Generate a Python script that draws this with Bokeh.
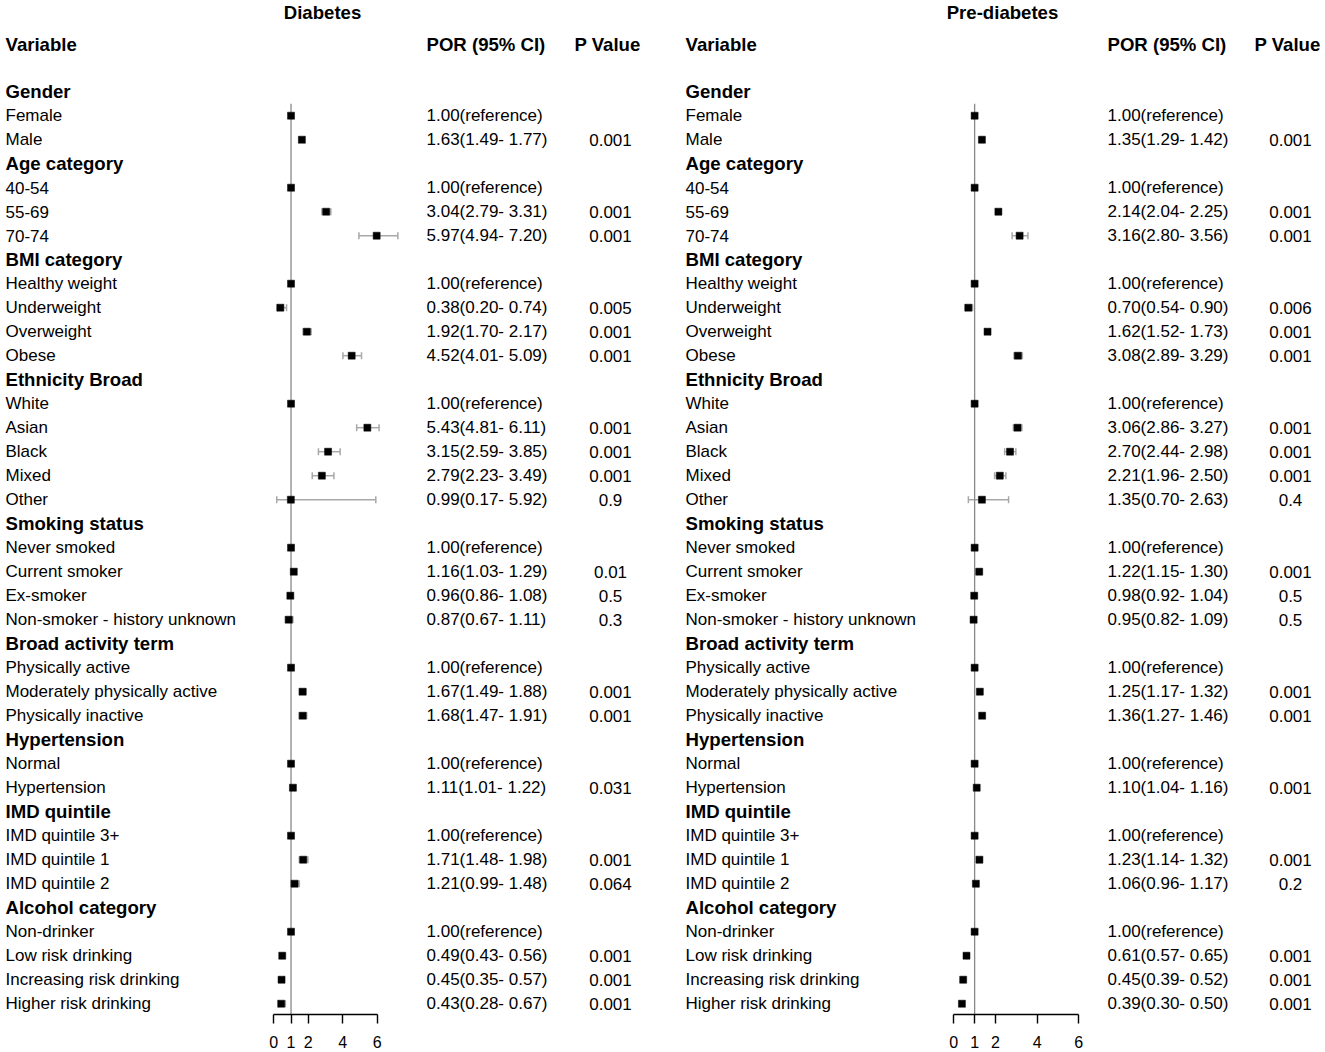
from bokeh.plotting import figure
from bokeh.models import ColumnDataSource, Range1d, LinearAxis, FixedTicker, Whisker, TeeHead
from bokeh.layouts import row
from bokeh.embed import file_html
from bokeh.resources import INLINE
from bokeh.core.properties import value

# ---------------- data ----------------
groups = ["Gender", "Age category", "BMI category", "Ethnicity Broad", "Smoking status",
          "Broad activity term", "Hypertension", "IMD quintile", "Alcohol category"]
levels = [["Female", "Male"],
          ["40-54", "55-69", "70-74"],
          ["Healthy weight", "Underweight", "Overweight", "Obese"],
          ["White", "Asian", "Black", "Mixed", "Other"],
          ["Never smoked", "Current smoker", "Ex-smoker", "Non-smoker - history unknown"],
          ["Physically active", "Moderately physically active", "Physically inactive"],
          ["Normal", "Hypertension"],
          ["IMD quintile 3+", "IMD quintile 1", "IMD quintile 2"],
          ["Non-drinker", "Low risk drinking", "Increasing risk drinking", "Higher risk drinking"]]

dm_or = [1.00, 1.63, 1.00, 3.04, 5.97, 1.00, 0.38, 1.92, 4.52, 1.00, 5.43, 3.15, 2.79, 0.99,
         1.00, 1.16, 0.96, 0.87, 1.00, 1.67, 1.68, 1.00, 1.11, 1.00, 1.71, 1.21, 1.00, 0.49, 0.45, 0.43]
dm_lo = [None, 1.49, None, 2.79, 4.94, None, 0.20, 1.70, 4.01, None, 4.81, 2.59, 2.23, 0.17,
         None, 1.03, 0.86, 0.67, None, 1.49, 1.47, None, 1.01, None, 1.48, 0.99, None, 0.43, 0.35, 0.28]
dm_hi = [None, 1.77, None, 3.31, 7.20, None, 0.74, 2.17, 5.09, None, 6.11, 3.85, 3.49, 5.92,
         None, 1.29, 1.08, 1.11, None, 1.88, 1.91, None, 1.22, None, 1.98, 1.48, None, 0.56, 0.57, 0.67]
dm_p = ["", "0.001", "", "0.001", "0.001", "", "0.005", "0.001", "0.001", "", "0.001", "0.001", "0.001", "0.9",
        "", "0.01", "0.5", "0.3", "", "0.001", "0.001", "", "0.031", "", "0.001", "0.064", "", "0.001", "0.001", "0.001"]

pd_or = [1.00, 1.35, 1.00, 2.14, 3.16, 1.00, 0.70, 1.62, 3.08, 1.00, 3.06, 2.70, 2.21, 1.35,
         1.00, 1.22, 0.98, 0.95, 1.00, 1.25, 1.36, 1.00, 1.10, 1.00, 1.23, 1.06, 1.00, 0.61, 0.45, 0.39]
pd_lo = [None, 1.29, None, 2.04, 2.80, None, 0.54, 1.52, 2.89, None, 2.86, 2.44, 1.96, 0.70,
         None, 1.15, 0.92, 0.82, None, 1.17, 1.27, None, 1.04, None, 1.14, 0.96, None, 0.57, 0.39, 0.30]
pd_hi = [None, 1.42, None, 2.25, 3.56, None, 0.90, 1.73, 3.29, None, 3.27, 2.98, 2.50, 2.63,
         None, 1.30, 1.04, 1.09, None, 1.32, 1.46, None, 1.16, None, 1.32, 1.17, None, 0.65, 0.52, 0.50]
pd_p = ["", "0.001", "", "0.001", "0.001", "", "0.006", "0.001", "0.001", "", "0.001", "0.001", "0.001", "0.4",
        "", "0.001", "0.5", "0.5", "", "0.001", "0.001", "", "0.001", "", "0.001", "0.2", "", "0.001", "0.001", "0.001"]

axis_ticks = [0, 1, 2, 4, 6]

# ---------------- layout constants ----------------
FONT = value("Liberation Sans")
ROW0, ROWH = 91.2, 24.0       # y of first row and row pitch (px)
TOP, FH = 0.0, 1014           # y of frame top, frame height
CI_COL = "#a8a8a8"
REF_COL = "#888888"
BOLD = "18.6px"
REG = "17px"


def row_of(ref_y):
    return (ref_y - ROW0) / ROWH


group_rows, level_rows, level_names = [], [], []
r = 0
for g, lv in zip(groups, levels):
    group_rows.append(r)
    r += 1
    for name in lv:
        level_rows.append(r)
        level_names.append(name)
        r += 1


def por_text(o, l, h):
    if l is None:
        return f"{o:.2f}(reference)"
    return f"{o:.2f}({l:.2f}- {h:.2f})"


def panel(title, ors, los, his, ps, W, fig_left, ref_zero, pxu,
          text_x, title_x, por_x, phead_x, p_x):
    def X(px):
        return (px - ref_zero) / pxu

    x0 = X(fig_left)
    p = figure(frame_width=W, frame_height=FH,
               x_range=Range1d(x0, x0 + W / pxu),
               y_range=Range1d(row_of(TOP + FH), row_of(TOP)),
               output_backend="svg", toolbar_location=None,
               x_axis_location=None, y_axis_location=None,
               min_border=0, min_border_left=0, min_border_right=0,
               min_border_top=0, min_border_bottom=0,
               outline_line_color=None, background_fill_color="white",
               border_fill_color="white")
    p.xgrid.visible = False
    p.ygrid.visible = False

    p.text(x=[X(title_x)], y=[row_of(11.9)], text=[title], text_align="center",
           text_baseline="middle", text_font=FONT, text_font_size=BOLD,
           text_font_style="bold", text_color="black")
    p.text(x=[X(text_x), X(por_x), X(phead_x)], y=[row_of(43.6)] * 3,
           text=["Variable", "POR (95% CI)", "P Value"], text_align="left",
           text_baseline="middle", text_font=FONT, text_font_size=BOLD,
           text_font_style="bold", text_color="black")

    p.text(x=[X(text_x)] * len(groups), y=group_rows, text=groups,
           text_align="left", text_baseline="middle", text_font=FONT,
           text_font_size=BOLD, text_font_style="bold", text_color="black")
    p.text(x=[X(text_x)] * len(level_names), y=level_rows, text=level_names,
           text_align="left", text_baseline="middle", text_font=FONT,
           text_font_size=REG, text_color="black")
    p.text(x=[X(por_x)] * len(ors), y=level_rows,
           text=[por_text(o, l, h) for o, l, h in zip(ors, los, his)],
           text_align="left", text_baseline="middle", text_font=FONT,
           text_font_size=REG, text_color="black")
    p.text(x=[X(p_x)] * len(ps), y=level_rows, text=ps,
           text_align="center", text_baseline="middle", text_font=FONT,
           text_font_size=REG, text_color="black")

    # reference line at 1
    p.segment(x0=[1], y0=[0.5], x1=[1], y1=[row_of(TOP + FH)],
              line_color=REF_COL, line_width=1.3)

    ci = ColumnDataSource(dict(
        y=[yy for yy, l in zip(level_rows, los) if l is not None],
        lo=[l for l in los if l is not None],
        hi=[h for h in his if h is not None]))
    wk = Whisker(source=ci, base="y", lower="lo", upper="hi", dimension="width",
                 line_color=CI_COL, line_width=1.5, level="underlay",
                 upper_head=TeeHead(size=7, line_color=CI_COL, line_width=1.5),
                 lower_head=TeeHead(size=7, line_color=CI_COL, line_width=1.5))
    p.add_layout(wk)

    p.scatter(x=ors, y=level_rows, marker="square", size=7,
              fill_color="black", line_color="black", line_width=0.5)

    ax = LinearAxis(bounds=(0, 6), ticker=FixedTicker(ticks=axis_ticks))
    ax.axis_line_color = "black"
    ax.axis_line_width = 1.4
    ax.major_tick_line_color = "black"
    ax.major_tick_line_width = 1.4
    ax.major_tick_in = 0
    ax.major_tick_out = 9
    ax.minor_tick_out = 0
    ax.minor_tick_in = 0
    ax.major_label_standoff = 12
    ax.major_label_text_font = "Liberation Sans"
    ax.major_label_text_font_size = "16px"
    ax.major_label_text_color = "black"
    p.add_layout(ax, "below")
    return p


p1 = panel("Diabetes", dm_or, dm_lo, dm_hi, dm_p, W=665, fig_left=0,
           ref_zero=273.3, pxu=17.23, text_x=5, title_x=322, por_x=426,
           phead_x=574, p_x=610)
p2 = panel("Pre-diabetes", pd_or, pd_lo, pd_hi, pd_p, W=660, fig_left=665,
           ref_zero=953.3, pxu=20.83, text_x=685, title_x=1002, por_x=1107,
           phead_x=1254, p_x=1290)

layout = row(p1, p2)

open("out.html", "w").write(file_html(layout, INLINE))
